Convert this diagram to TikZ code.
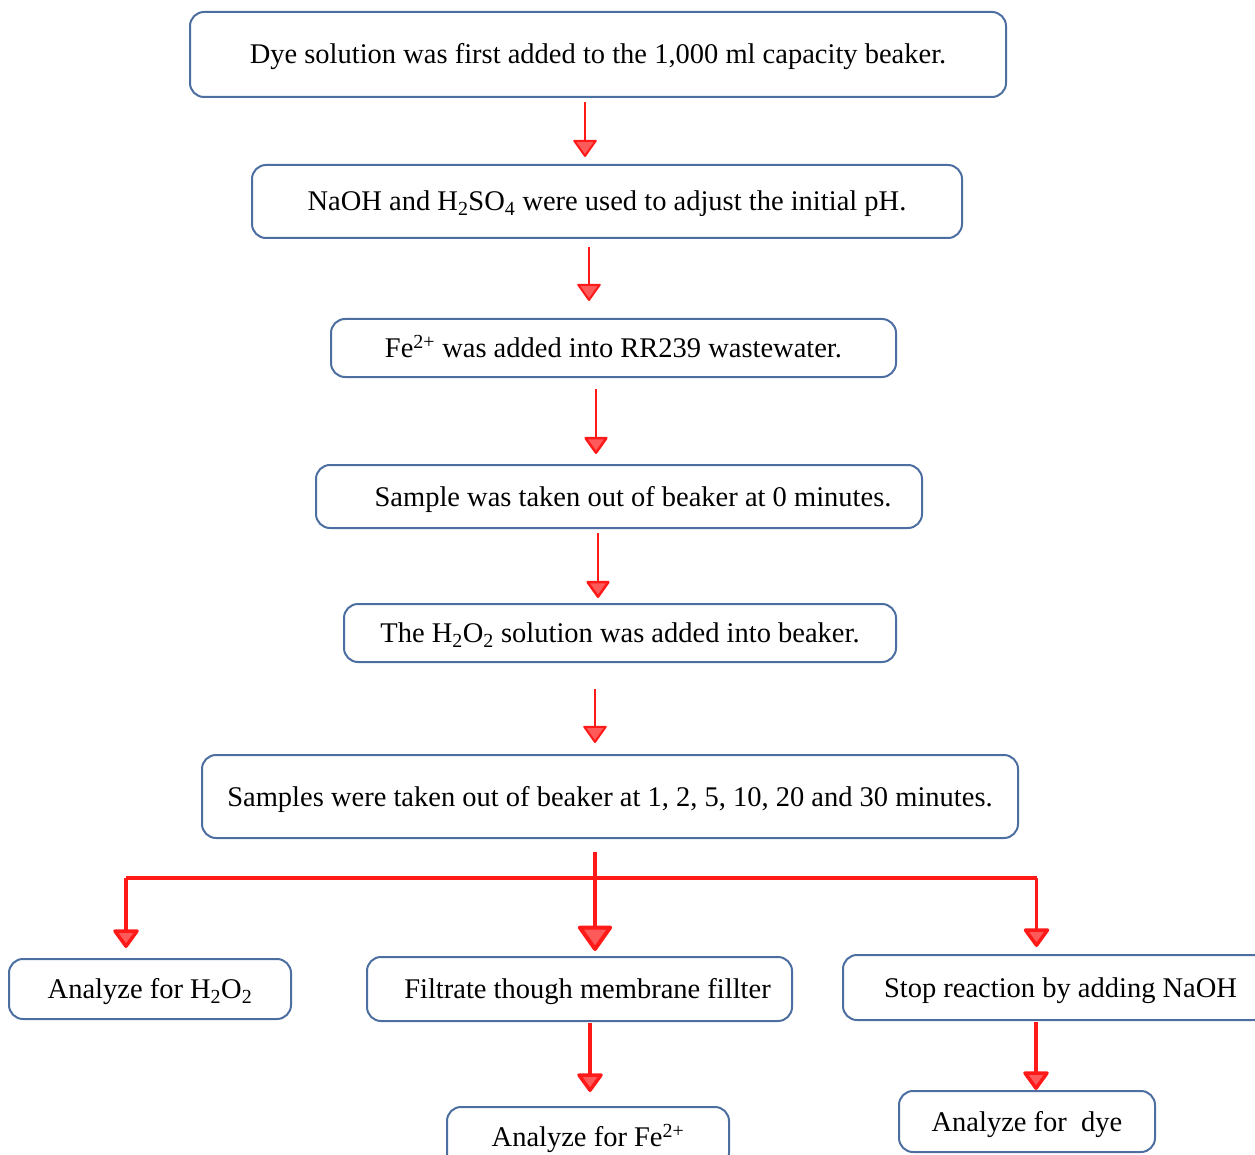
\documentclass[tikz,border=0pt]{standalone}
\usepackage{fontspec}
\setmainfont{Liberation Serif}
\usetikzlibrary{positioning,arrows.meta,calc}
\definecolor{boxblue}{HTML}{4C6EA0}
\definecolor{arrred}{HTML}{FF1A1A}
\definecolor{tipred}{HTML}{FF5A5A}

\tikzset{
  stepbox/.style={draw=boxblue, line width=2pt, rounded corners=14pt, fill=white,
    font=\fontsize{28.5}{34}\selectfont, align=center, inner sep=0pt,
    text height=19pt, text depth=0pt},
  flow/.style={draw=arrred, line width=2pt,
    -{Triangle[width=25pt, length=18pt, fill=tipred, round]}},
  branch/.style={draw=arrred, line width=3.5pt,
    -{Triangle[width=28pt, length=20pt, fill=tipred, round]}},
  trunk/.style={draw=arrred, line width=4pt,
    -{Triangle[width=37pt, length=27pt, fill=tipred, round]}},
}

\begin{document}
\begin{tikzpicture}[x=1pt, y=-1pt]
\useasboundingbox (0,0) rectangle (1255,1155);

% Main sequence
\node[stepbox, minimum width=816pt, minimum height=85pt] (dye) at (598,54.5)
  {Dye solution was first added to the 1,000 ml capacity beaker.};
\node[stepbox, minimum width=710pt, minimum height=73pt] (naoh) at (607,201.5)
  {NaOH and H\textsubscript{2}SO\textsubscript{4} were used to adjust the initial pH.};
\node[stepbox, minimum width=565pt, minimum height=58pt] (fe) at (613.5,348)
  {Fe\textsuperscript{2+} was added into RR239 wastewater.};
\node[stepbox, minimum width=606pt, minimum height=63pt] (zero) at (619,496.5)
  {\hspace{28pt}Sample was taken out of beaker at 0 minutes.};
\node[stepbox, minimum width=552pt, minimum height=58pt] (hp) at (620,633)
  {The H\textsubscript{2}O\textsubscript{2} solution was added into beaker.};
\node[stepbox, minimum width=816pt, minimum height=83pt] (samples) at (610,796.5)
  {Samples were taken out of beaker at 1, 2, 5, 10, 20 and 30 minutes.};

% Branches
\node[stepbox, minimum width=282pt, minimum height=60pt] (anhp) at (150,989)
  {Analyze for H\textsubscript{2}O\textsubscript{2}};
\node[stepbox, minimum width=425pt, minimum height=64pt] (filt) at (579.5,989)
  {\hspace{16pt}Filtrate though membrane fillter};
\node[stepbox, minimum width=435pt, minimum height=65pt] (stop) at (1060.5,987.5)
  {Stop reaction by adding NaOH};
\node[stepbox, minimum width=282pt, minimum height=60pt] (anfe) at (588,1137)
  {Analyze for Fe\textsuperscript{2+}};
\node[stepbox, minimum width=256pt, minimum height=61pt] (andye) at (1027,1121.5)
  {Analyze for~ dye};

% Arrows down the sequence
\draw[flow, shorten <=4pt, shorten >=7pt] ($(dye.south)+(-13,0)$) -- ($(dye.south |- naoh.north)+(-13,0)$);
\draw[flow, shorten <=8pt, shorten >=17pt] ($(naoh.south)+(-18,0)$) -- ($(naoh.south |- fe.north)+(-18,0)$);
\draw[flow, line width=2.5pt, shorten <=11pt, shorten >=10pt] ($(fe.south)+(-17.5,0)$) -- ($(fe.south |- zero.north)+(-17.5,0)$);
\draw[flow, line width=2.5pt, shorten <=4pt, shorten >=5pt] ($(zero.south)+(-21,0)$) -- ($(zero.south |- hp.north)+(-21,0)$);
\draw[flow, shorten <=26pt, shorten >=11pt] ($(hp.south)+(-25,0)$) -- ($(hp.south |- samples.north)+(-25,0)$);

% Split into three
\coordinate (forkL) at ($(anhp.north)+(-24,-80)$);
\coordinate (forkR) at ($(stop.north)+(-24,-76)$);
\draw[arrred, line width=3.5pt] (forkL) -- (forkR);
\draw[trunk, shorten <=13pt, shorten >=5pt] ($(samples.south)+(-15,0)$) -- ($(samples.south |- filt.north)+(-15,0)$);
\draw[branch, shorten >=10pt] (forkL) -- ($(anhp.north)+(-24,0)$);
\draw[branch, shorten >=7pt] (forkR) -- ($(stop.north)+(-24,0)$);

% Last steps
\draw[branch, shorten <=1pt, shorten >=14pt] ($(filt.south)+(10.5,0)$) -- ($(filt.south |- anfe.north)+(10.5,0)$);
\draw[branch, shorten <=1pt, shorten >=0pt] ($(stop.south)+(-24.5,0)$) -- ($(stop.south |- andye.north)+(-24.5,0)$);

\end{tikzpicture}
\end{document}
